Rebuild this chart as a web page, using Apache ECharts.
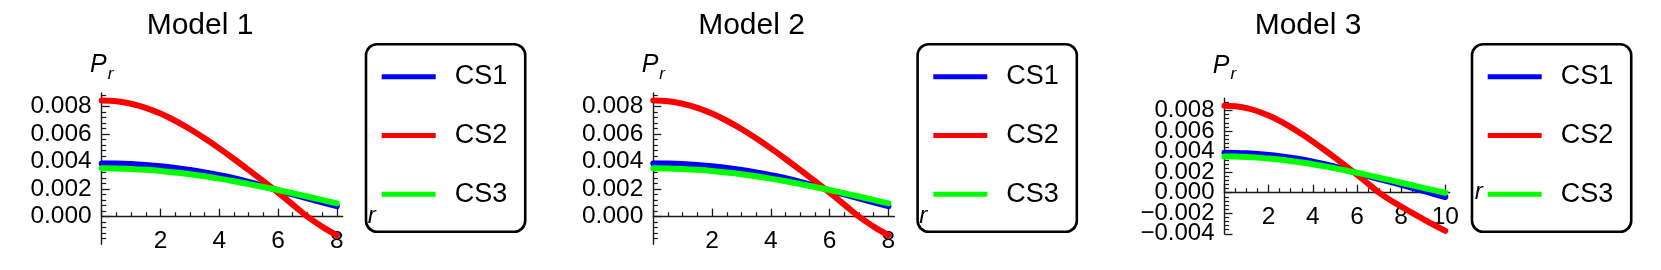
<!DOCTYPE html>
<html>
<head>
<meta charset="utf-8">
<script src="https://cdn.jsdelivr.net/npm/echarts@6/dist/echarts.min.js"></script>
<style>
html,body{margin:0;padding:0;background:#fff;}
#chart{width:1661px;height:270px;}
</style>
</head>
<body>
<div id="chart"></div>
<script>
// ---------- data ----------
const titles = ['Model 1', 'Model 2', 'Model 3'];
const seriesNames = ['CS1', 'CS2', 'CS3'];
const seriesColors = ['#0000ff', '#ff0000', '#00ff00'];

const xModel1 = [0,0.5,1,1.5,2,2.5,3,3.5,4,4.5,5,5.5,6,6.5,7,7.5,8];
const cs1Model1 = [0.00388,0.00387,0.00383,0.00376,0.00367,0.00355,0.00340,0.00322,0.00302,0.00280,0.00253,0.00223,0.00191,0.00162,0.00133,0.00105,0.00077];
const cs2Model1 = [0.00845,0.00840,0.00822,0.00792,0.00750,0.00698,0.00638,0.00570,0.00497,0.00420,0.00340,0.00258,0.00175,0.00088,0.00000,-0.00072,-0.00135];
const cs3Model1 = [0.00352,0.00351,0.00347,0.00341,0.00333,0.00322,0.00309,0.00294,0.00277,0.00258,0.00237,0.00216,0.00194,0.00171,0.00147,0.00122,0.00097];

const xModel2 = [0,0.5,1,1.5,2,2.5,3,3.5,4,4.5,5,5.5,6,6.5,7,7.5,8];
const cs1Model2 = [0.00388,0.00387,0.00383,0.00376,0.00367,0.00355,0.00340,0.00322,0.00302,0.00280,0.00253,0.00223,0.00191,0.00162,0.00133,0.00105,0.00077];
const cs2Model2 = [0.00845,0.00840,0.00822,0.00792,0.00750,0.00698,0.00638,0.00570,0.00497,0.00420,0.00340,0.00258,0.00175,0.00088,0.00000,-0.00072,-0.00135];
const cs3Model2 = [0.00352,0.00351,0.00347,0.00341,0.00333,0.00322,0.00309,0.00294,0.00277,0.00258,0.00237,0.00216,0.00194,0.00171,0.00147,0.00122,0.00097];

const xModel3 = [0,0.5,1,1.5,2,2.5,3,3.5,4,4.5,5,5.5,6,6.5,7,7.5,8,8.5,9,9.5,10];
const cs1Model3 = [0.00388,0.00387,0.00383,0.00376,0.00367,0.00355,0.00340,0.00322,0.00302,0.00280,0.00253,0.00223,0.00191,0.00162,0.00133,0.00105,0.00077,0.00047,0.00017,-0.00013,-0.00042];
const cs2Model3 = [0.00845,0.00840,0.00822,0.00792,0.00750,0.00698,0.00638,0.00570,0.00497,0.00420,0.00340,0.00258,0.00175,0.00088,0.00000,-0.00072,-0.00135,-0.00197,-0.00257,-0.00316,-0.00372];
const cs3Model3 = [0.00352,0.00351,0.00347,0.00341,0.00333,0.00322,0.00309,0.00294,0.00277,0.00258,0.00237,0.00216,0.00194,0.00171,0.00147,0.00122,0.00097,0.00072,0.00047,0.00023,-0.00001];

const xTicks12 = [0,2,4,6,8];
const xTicks3 = [0,2,4,6,8,10];
const yTicks12 = [0,0.002,0.004,0.006,0.008];
const yTicks3 = [-0.004,-0.002,0,0.002,0.004,0.006,0.008];
// Model 3 labels are split over two coincident axes so the tightly packed labels all stay visible
const yLabels3a = [-0.004,0,0.004,0.008];
const yLabels3b = [-0.002,0.002,0.006];

// ---------- layout ----------
const FONT = '"Liberation Sans", Arial, Helvetica, sans-serif';
const panels = [
  {x: xModel1, ys: [cs1Model1, cs2Model1, cs3Model1], xMax: 8.2, yMin: -0.002, yMax: 0.009,
   xTicks: xTicks12, yTicks: yTicks12, yLabelsA: yTicks12, yLabelsB: null,
   xLabelMargin: -15, yLabelSize: 24.5, nameGap: 10,
   grid: {left: 101.7, top: 93, width: 241, height: 151.2}, titleX: 200, legendLeft: 366},
  {x: xModel2, ys: [cs1Model2, cs2Model2, cs3Model2], xMax: 8.2, yMin: -0.002, yMax: 0.009,
   xTicks: xTicks12, yTicks: yTicks12, yLabelsA: yTicks12, yLabelsB: null,
   xLabelMargin: -15, yLabelSize: 24.5, nameGap: 10,
   grid: {left: 653.3, top: 93, width: 241, height: 151.2}, titleX: 751.5, legendLeft: 917.6},
  {x: xModel3, ys: [cs1Model3, cs2Model3, cs3Model3], xMax: 10.2, yMin: -0.004, yMax: 0.0092,
   xTicks: xTicks3, yTicks: yTicks3, yLabelsA: yLabels3a, yLabelsB: yLabels3b,
   xLabelMargin: -29.5, yLabelSize: 24, nameGap: 15,
   grid: {left: 1224.5, top: 98.1, width: 225.2, height: 135.7}, titleX: 1308, legendLeft: 1472}
];

const axisColor = '#1a1a1a';
const option = {
  backgroundColor: '#ffffff',
  animation: false,
  title: [], grid: [], xAxis: [], yAxis: [], series: [], legend: []
};

function fmtY(v) {
  const s = Math.abs(v).toFixed(3);
  return (v < -1e-12 ? '\u2212' : '') + s;
}

const extraY = [];
panels.forEach((p, i) => {
  option.title.push({
    text: titles[i], left: p.titleX, top: 11, textAlign: 'center', padding: 0,
    textStyle: {fontFamily: FONT, fontSize: 30, fontWeight: 'normal', color: '#000'}
  });
  option.grid.push(Object.assign({containLabel: false, outerBoundsMode: 'none'}, p.grid));
  option.xAxis.push({
    type: 'value', gridIndex: i, min: 0, max: p.xMax, interval: 2,
    name: 'r', nameLocation: 'end', nameGap: 25,
    nameTextStyle: {fontFamily: FONT, fontSize: 24, fontStyle: 'italic', color: '#000', verticalAlign: 'middle'},
    axisLine: {onZero: true, lineStyle: {color: axisColor, width: 1.4}},
    axisTick: {show: true, inside: true, length: 8, lineStyle: {color: axisColor, width: 1.3}, customValues: p.xTicks},
    minorTick: {show: true, splitNumber: 4, length: 4.5, lineStyle: {color: axisColor, width: 1.2}},
    axisLabel: {fontFamily: FONT, fontSize: 24.5, color: '#000', margin: p.xLabelMargin,
      interval: 0, hideOverlap: false, showMinLabel: true, showMaxLabel: true,
      customValues: p.xTicks.filter(v => v !== 0),
      formatter: v => (v === 0 ? '' : String(v))},
    splitLine: {show: false}
  });
  option.yAxis.push({
    type: 'value', gridIndex: i, position: 'left', offset: 0,
    min: p.yMin, max: p.yMax, interval: 0.002,
    name: '{a|P}{b|r}', nameLocation: 'end', nameGap: p.nameGap,
    nameTextStyle: {
      rich: {
        a: {fontFamily: FONT, fontSize: 25, fontStyle: 'italic', color: '#000', verticalAlign: 'bottom', padding: [0, 0, 5, 0]},
        b: {fontFamily: FONT, fontSize: 17, fontStyle: 'italic', color: '#000', verticalAlign: 'bottom', padding: [0, 0, 0, 1]}
      }
    },
    axisLine: {onZero: false, lineStyle: {color: axisColor, width: 1.4}},
    axisTick: {show: true, inside: true, length: 8, lineStyle: {color: axisColor, width: 1.3}, customValues: p.yTicks},
    minorTick: {show: true, splitNumber: 5, length: 4.5, lineStyle: {color: axisColor, width: 1.2}},
    axisLabel: {fontFamily: FONT, fontSize: p.yLabelSize, color: '#000', margin: 10,
      interval: 0, hideOverlap: false, showMinLabel: true, showMaxLabel: true,
      customValues: p.yLabelsA, formatter: v => fmtY(v)},
    splitLine: {show: false}
  });
  if (p.yLabelsB) {
    extraY.push({
      type: 'value', gridIndex: i, position: 'left', offset: 0,
      min: p.yMin, max: p.yMax, interval: 0.002,
      axisLine: {show: false, onZero: false}, axisTick: {show: false}, minorTick: {show: false},
      axisLabel: {fontFamily: FONT, fontSize: p.yLabelSize, color: '#000', margin: 10,
        interval: 0, hideOverlap: false, showMinLabel: true, showMaxLabel: true,
        customValues: p.yLabelsB, formatter: v => fmtY(v)},
      splitLine: {show: false}
    });
  }
  seriesNames.forEach((nm, k) => {
    option.series.push({
      type: 'line', name: nm, xAxisIndex: i, yAxisIndex: i,
      data: p.x.map((xv, j) => [xv, p.ys[k][j]]),
      showSymbol: false, symbol: 'none', smooth: 0.4, clip: true,
      lineStyle: {color: seriesColors[k], width: 6, cap: 'round', join: 'round'},
      itemStyle: {color: seriesColors[k]},
      z: 2 + k
    });
  });
  option.legend.push({
    left: p.legendLeft, top: 44.3, orient: 'vertical',
    padding: [19, 18, 24, 15.7],
    itemWidth: 54, itemHeight: 5, itemGap: 31.7, icon: 'rect',
    borderColor: '#000', borderWidth: 2.6, borderRadius: 11,
    selectedMode: false,
    textStyle: {fontFamily: FONT, fontSize: 27, color: '#000', padding: [0, 0, 0, 14]},
    data: seriesNames.slice()
  });
});
extraY.forEach(a => option.yAxis.push(a));

const chart = echarts.init(document.getElementById('chart'), null, {renderer: 'canvas'});
chart.setOption(option);
</script>
</body>
</html>
